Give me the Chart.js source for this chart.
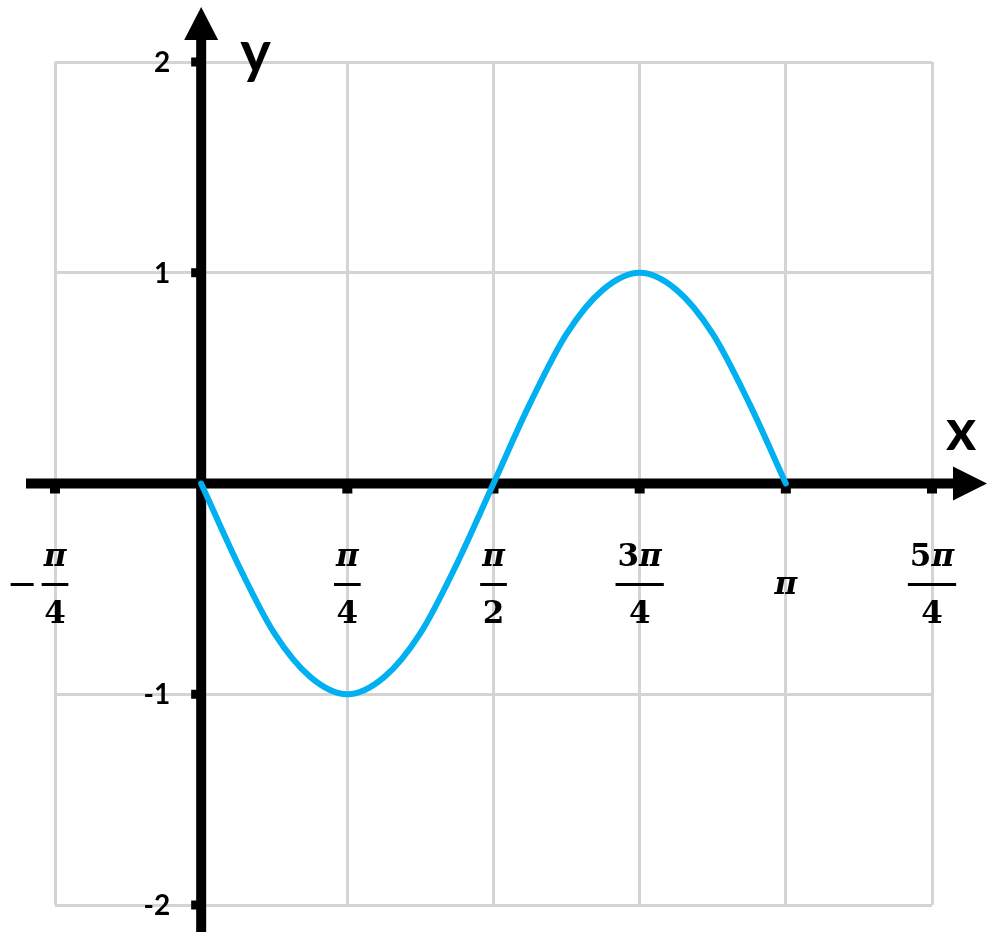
<!DOCTYPE html>
<html>
<head>
<meta charset="utf-8">
<script src="https://cdn.jsdelivr.net/npm/chart.js@4.4.1/dist/chart.umd.min.js"></script>
<style>
  html, body { margin: 0; padding: 0; background: #fff; }
  #wrap { width: 1000px; height: 946px; }
</style>
</head>
<body>
<div id="wrap"><canvas id="grafico"></canvas></div>
<script>
// x is measured in steps of pi/4
const xTickValues = [-1, 1, 2, 3, 4, 5];
const xTickLabels = ['-π/4', 'π/4', 'π/2', '3π/4', 'π', '5π/4'];
const yTickValues = [2, 1, -1, -2];
const yTickLabels = ['2', '1', '-1', '-2'];

const xValues = [0, 0.25, 0.5, 0.75, 1, 1.25, 1.5, 1.75, 2, 2.25, 2.5, 2.75, 3, 3.25, 3.5, 3.75, 4];
const yValues = [0, -0.38, -0.71, -0.92, -1, -0.92, -0.71, -0.38, 0, 0.38, 0.71, 0.92, 1, 0.92, 0.71, 0.38, 0];

const FRAC_FONT = 'bold 31px "DejaVu Serif"';
const PI_FONT = 'italic bold 31px "DejaVu Serif"';

const axesPlugin = {
    id: 'axes',
    beforeDatasetsDraw(chart) {
        const ctx = chart.ctx;
        const area = chart.chartArea;
        const sx = chart.scales.x;
        const sy = chart.scales.y;
        const x0 = sx.getPixelForValue(0);
        const y0 = sy.getPixelForValue(0);
        ctx.save();
        ctx.fillStyle = '#000';

        // y axis with arrow
        ctx.fillRect(x0 - 5, area.top - 24, 10, area.bottom + 27 - (area.top - 24));
        ctx.beginPath();
        ctx.moveTo(x0, area.top - 55);
        ctx.lineTo(x0 - 17, area.top - 22);
        ctx.lineTo(x0 + 17, area.top - 22);
        ctx.closePath();
        ctx.fill();

        // x axis with arrow
        ctx.fillRect(area.left - 29, y0 - 5, area.right + 24 - (area.left - 29), 10);
        ctx.beginPath();
        ctx.moveTo(area.right + 55, y0);
        ctx.lineTo(area.right + 21, y0 - 17);
        ctx.lineTo(area.right + 21, y0 + 17);
        ctx.closePath();
        ctx.fill();

        // y ticks and labels
        ctx.font = 'bold 28px Lato';
        ctx.textAlign = 'right';
        ctx.textBaseline = 'middle';
        yTickValues.forEach(function(v, i) {
            const py = sy.getPixelForValue(v);
            ctx.fillRect(x0 - 10, py - 4.5, 6, 9);
            ctx.fillText(yTickLabels[i], x0 - 31, py + 1);
        });

        // x ticks and fraction labels
        xTickValues.forEach(function(v, i) {
            const px = sx.getPixelForValue(v);
            ctx.fillRect(px - 5, y0 + 4, 10, 6);
            let label = xTickLabels[i];
            let neg = false;
            if (label[0] === '-') { neg = true; label = label.slice(1); }
            const parts = label.split('/');
            const barY = y0 + 101;
            ctx.textAlign = 'center';
            ctx.textBaseline = 'alphabetic';
            if (parts.length === 1) {
                ctx.font = PI_FONT;
                ctx.fillText(parts[0], px, barY + 9);
                return;
            }
            // numerator: digits upright, pi italic
            const num = parts[0];
            let wNum = 0;
            for (const ch of num) {
                ctx.font = ch === 'π' ? PI_FONT : FRAC_FONT;
                wNum += ctx.measureText(ch).width;
            }
            ctx.font = FRAC_FONT;
            const wDen = ctx.measureText(parts[1]).width;
            const barW = Math.max(wNum, wDen) + 4;
            ctx.fillRect(px - barW / 2, barY - 1.5, barW, 3);
            let cx = px - wNum / 2;
            ctx.textAlign = 'left';
            for (const ch of num) {
                ctx.font = ch === 'π' ? PI_FONT : FRAC_FONT;
                ctx.fillText(ch, cx, barY - 19);
                cx += ctx.measureText(ch).width;
            }
            ctx.font = FRAC_FONT;
            ctx.textAlign = 'center';
            ctx.fillText(parts[1], px, barY + 38);
            if (neg) {
                ctx.fillRect(px - barW / 2 - 31, barY - 1.5, 23, 3);
            }
        });

        // axis names
        ctx.font = 'bold 58px Lato';
        ctx.textAlign = 'left';
        ctx.fillText('y', x0 + 39, area.top + 10);
        ctx.fillText('x', area.right + 14, y0 - 34);
        ctx.restore();
    }
};

const points = xValues.map(function(v, i) { return { x: v, y: yValues[i] }; });

new Chart(document.getElementById('grafico').getContext('2d'), {
    type: 'line',
    data: {
        datasets: [{
            data: points,
            borderColor: '#00b0f0',
            borderWidth: 6,
            borderCapStyle: 'round',
            pointRadius: 0,
            cubicInterpolationMode: 'monotone',
            fill: false
        }]
    },
    options: {
        responsive: true,
        maintainAspectRatio: false,
        animation: false,
        layout: { padding: { left: 55, right: 68, top: 62, bottom: 41 } },
        plugins: {
            legend: { display: false },
            tooltip: { enabled: false }
        },
        scales: {
            x: {
                type: 'linear',
                min: -1,
                max: 5,
                ticks: { display: false, stepSize: 1 },
                border: { display: false },
                grid: { color: '#d4d4d4', lineWidth: 3, drawTicks: false }
            },
            y: {
                type: 'linear',
                min: -2,
                max: 2,
                ticks: { display: false, stepSize: 1 },
                border: { display: false },
                grid: { color: '#d4d4d4', lineWidth: 3, drawTicks: false }
            }
        }
    },
    plugins: [axesPlugin]
});
</script>
</body>
</html>
